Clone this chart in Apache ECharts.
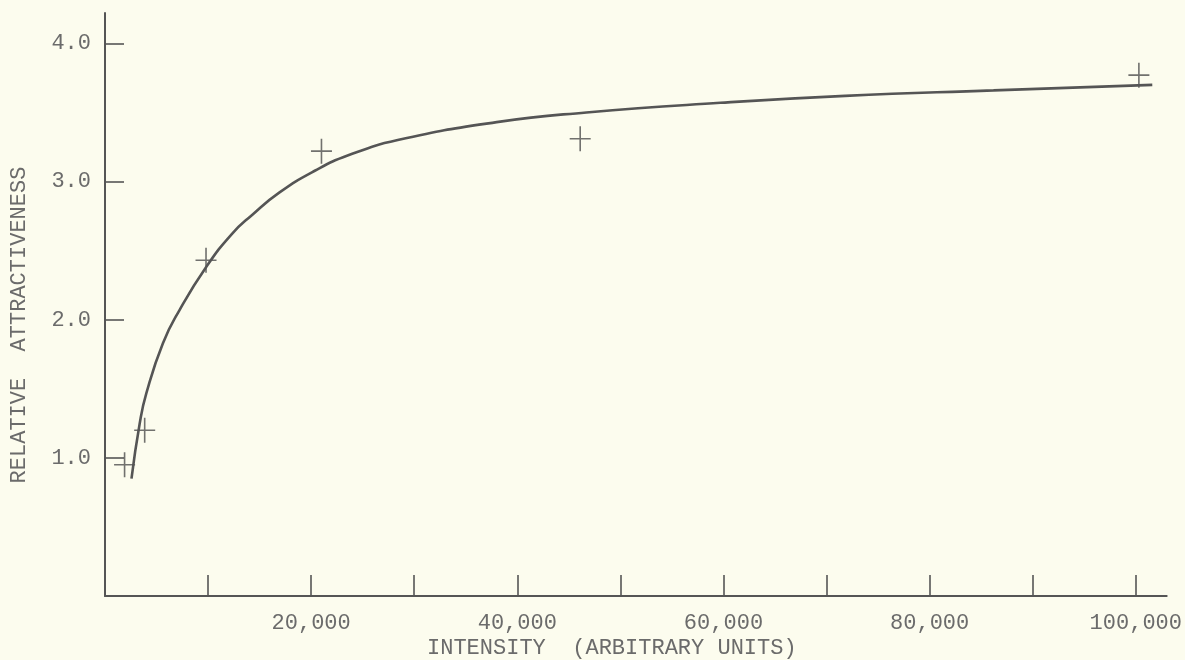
<!DOCTYPE html>
<html>
<head>
<meta charset="utf-8">
<script src="https://cdn.jsdelivr.net/npm/echarts@6/dist/echarts.min.js"></script>
<style>
  html, body { margin: 0; padding: 0; background: #fcfcee; }
  #chart { width: 1185px; height: 660px; }
</style>
</head>
<body>
<div id="chart"></div>
<script>
// Observed data points (crosses)
const pointX = [1900, 3850, 9800, 21000, 46100, 100300];
const pointY = [0.95, 1.20, 2.43, 3.22, 3.31, 3.77];

// Hand-drawn fitted curve
const curveX = [2570, 3370, 4020, 5620, 7230, 9800, 12300, 14300, 16900, 20400, 23600, 28400, 38000, 46700, 59700, 71800, 86200, 101600];
const curveY = [0.85, 1.25, 1.47, 1.83, 2.07, 2.38, 2.62, 2.76, 2.92, 3.08, 3.19, 3.30, 3.43, 3.50, 3.57, 3.62, 3.66, 3.70];

// Axis ticks and labels
const xTicks = [10000, 20000, 30000, 40000, 50000, 60000, 70000, 80000, 90000, 100000];
const xLabels = [20000, 40000, 60000, 80000, 100000];
const yTicks = [1, 2, 3, 4];
const yLabels = [1, 2, 3, 4];

const xTitle = 'INTENSITY  (ARBITRARY UNITS)';
const yTitle = 'RELATIVE  ATTRACTIVENESS';

const FONT = '"Liberation Mono", "Courier New", monospace';
const TEXT = '#6b6b6b';
const INK = '#555555';

const chart = echarts.init(document.getElementById('chart'));
chart.setOption({
  backgroundColor: '#fcfcee',
  animation: false,
  grid: { left: 105, right: 11, top: 13, bottom: 64, containLabel: false },
  xAxis: {
    type: 'value', min: 0, max: 103000, interval: 10000,
    axisLine: { show: true, lineStyle: { color: INK, width: 2 } },
    axisTick: { show: true, inside: true, length: 21, customValues: xTicks, lineStyle: { color: INK, width: 1.6 } },
    axisLabel: {
      customValues: xLabels, margin: 16, color: TEXT, fontFamily: FONT, fontSize: 22,
      formatter: v => Number(v).toLocaleString('en-US')
    },
    splitLine: { show: false }
  },
  yAxis: {
    type: 'value', min: 0, max: 4.22, interval: 1,
    axisLine: { show: true, lineStyle: { color: INK, width: 2 } },
    axisTick: { show: true, inside: true, length: 19, customValues: yTicks, lineStyle: { color: INK, width: 1.6 } },
    axisLabel: {
      customValues: yLabels, margin: 14, color: TEXT, fontFamily: FONT, fontSize: 22,
      formatter: v => Number(v).toFixed(1)
    },
    splitLine: { show: false }
  },
  graphic: [
    { type: 'text', left: 427, top: 637, style: { text: xTitle, fill: TEXT, font: '22px ' + FONT } },
    { type: 'text', x: 19, y: 325, rotation: Math.PI / 2,
      style: { text: yTitle, fill: TEXT, font: '22px ' + FONT, align: 'center', verticalAlign: 'middle' } }
  ],
  series: [
    {
      type: 'line',
      data: curveX.map((x, i) => [x, curveY[i]]),
      showSymbol: false,
      smooth: 0.5,
      lineStyle: { color: INK, width: 2.6 },
      silent: true
    },
    {
      type: 'scatter',
      data: pointX.map((x, i) => [x, pointY[i]]),
      symbol: 'path://M9.7,0H11.3V25H9.7Z M0,11.7H21V13.3H0Z',
      symbolSize: [21, 25],
      itemStyle: { color: '#4d4d4d' },
      silent: true
    }
  ]
});
</script>
</body>
</html>
